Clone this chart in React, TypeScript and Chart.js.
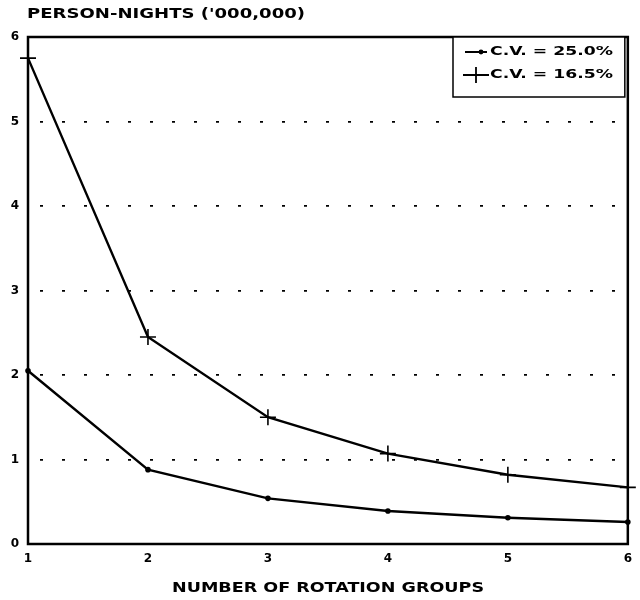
import React, { useEffect, useRef } from "react";
import { Chart, registerables } from "chart.js";

Chart.register(...registerables);

const rotationGroups = [1, 2, 3, 4, 5, 6];
const cv250 = [2.05, 0.88, 0.54, 0.39, 0.31, 0.26];
const cv165 = [5.75, 2.45, 1.5, 1.07, 0.82, 0.67];
const seriesLabels = ["C.V. = 25.0%", "C.V. = 16.5%"];
const yTitle = "PERSON-NIGHTS ('000,000)";
const xTitle = "NUMBER OF ROTATION GROUPS";

const FONT = "'DejaVu Sans', 'Liberation Sans', sans-serif";

function fitText(ctx: CanvasRenderingContext2D, text: string, x0: number, x1: number, y: number) {
  const w = ctx.measureText(text).width;
  const sx = (x1 - x0) / w;
  ctx.save();
  ctx.translate(x0, y);
  ctx.scale(sx, 1);
  ctx.textAlign = "left";
  ctx.textBaseline = "middle";
  ctx.fillText(text, 0, 0);
  ctx.restore();
}

const decor = {
  id: "decor",
  beforeDatasetsDraw(chart: any) {
    const ctx: CanvasRenderingContext2D = chart.ctx;
    const a = chart.chartArea;
    ctx.save();
    ctx.strokeStyle = "#000";
    ctx.lineWidth = 2.5;
    ctx.strokeRect(a.left, a.top, a.right - a.left, a.bottom - a.top);
    ctx.restore();
  },
  afterDraw(chart: any) {
    const ctx: CanvasRenderingContext2D = chart.ctx;
    const a = chart.chartArea;
    ctx.save();
    ctx.fillStyle = "#000";
    ctx.font = `bold 14px ${FONT}`;
    fitText(ctx, yTitle, 27, 305, 14);
    fitText(ctx, xTitle, 172, 484, 588);
    // legend
    const lx = 453, ly = a.top, lw = a.right - 3 - 453, lh = 60;
    ctx.fillStyle = "#fff";
    ctx.fillRect(lx, ly, lw, lh);
    ctx.strokeStyle = "#000";
    ctx.lineWidth = 1.5;
    ctx.strokeRect(lx, ly, lw, lh);
    ctx.fillStyle = "#000";
    ctx.lineWidth = 2;
    ctx.beginPath();
    ctx.moveTo(465, 52);
    ctx.lineTo(487, 52);
    ctx.stroke();
    ctx.beginPath();
    ctx.arc(481, 52, 2.4, 0, Math.PI * 2);
    ctx.fill();
    ctx.lineWidth = 1.8;
    ctx.beginPath();
    ctx.moveTo(463, 75);
    ctx.lineTo(489, 75);
    ctx.moveTo(476, 67);
    ctx.lineTo(476, 83);
    ctx.stroke();
    ctx.font = `bold 12px ${FONT}`;
    fitText(ctx, seriesLabels[0], 490, 613, 52);
    fitText(ctx, seriesLabels[1], 490, 613, 75);
    ctx.restore();
  },
};

export default function App() {
  const ref = useRef<HTMLCanvasElement | null>(null);
  useEffect(() => {
    if (!ref.current) return;
    const chart = new Chart(ref.current, {
      type: "line",
      data: {
        datasets: [
          {
            label: seriesLabels[0],
            data: rotationGroups.map((g, i) => ({ x: g, y: cv250[i] })),
            borderColor: "#000",
            backgroundColor: "#000",
            borderWidth: 2.4,
            pointStyle: "circle",
            pointRadius: 2.8,
            pointBorderWidth: 0,
            tension: 0,
            clip: false,
          },
          {
            label: seriesLabels[1],
            data: rotationGroups.map((g, i) => ({ x: g, y: cv165[i] })),
            borderColor: "#000",
            backgroundColor: "#000",
            borderWidth: 2.4,
            pointStyle: "cross",
            pointRadius: 8,
            pointBorderWidth: 1.6,
            tension: 0,
            clip: false,
          },
        ],
      },
      options: {
        responsive: false,
        animation: false,
        layout: { padding: { top: 37, right: 12, left: 0, bottom: 0 } },
        plugins: { legend: { display: false }, tooltip: { enabled: false }, title: { display: false } },
        scales: {
          x: {
            type: "linear",
            min: 1,
            max: 6,
            afterFit: (s: any) => {
              s.height = 56;
            },
            ticks: {
              stepSize: 1,
              padding: 8,
              color: "#000",
              font: { family: FONT, weight: "bold", size: 12 },
            },
            grid: { display: false, drawTicks: false },
            border: { display: false },
          },
          y: {
            min: 0,
            max: 6,
            afterFit: (s: any) => {
              s.width = 28;
            },
            ticks: {
              stepSize: 1,
              padding: 9,
              color: "#000",
              font: { family: FONT, weight: "bold", size: 12 },
            },
            grid: {
              drawTicks: false,
              lineWidth: 1.8,
              color: (c: any) => (c.tick && (c.tick.value === 0 || c.tick.value === 6) ? "rgba(0,0,0,0)" : "#000"),
            },
            border: { display: false, dash: [3, 19], dashOffset: 10 },
          },
        },
      },
      plugins: [decor],
    } as any);
    return () => chart.destroy();
  }, []);
  return (
    <div style={{ position: "fixed", left: 0, top: 0, width: 640, height: 600, background: "#fff" }}>
      <canvas ref={ref} width={640} height={600} />
    </div>
  );
}
